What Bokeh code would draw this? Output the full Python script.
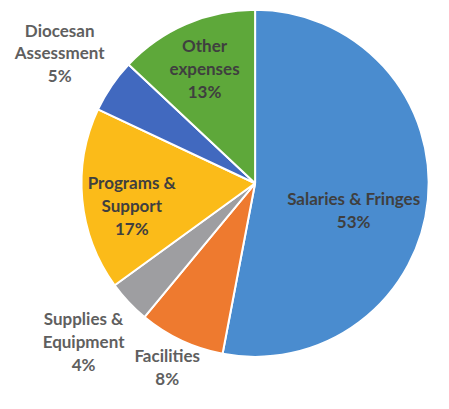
import math
from bokeh.plotting import figure
from bokeh.models import Range1d, ColumnDataSource
from bokeh.core.properties import value
from bokeh.embed import file_html
from bokeh.resources import INLINE

# ---- data ----
categories = ["Salaries & Fringes", "Facilities", "Supplies & Equipment",
              "Programs & Support", "Diocesan Assessment", "Other expenses"]
percents = [53, 8, 4, 17, 5, 13]
label_lines = [["Salaries & Fringes", "53%"],
               ["Facilities", "8%"],
               ["Supplies &", "Equipment", "4%"],
               ["Programs &", "Support", "17%"],
               ["Diocesan", "Assessment", "5%"],
               ["Other", "expenses", "13%"]]
colors = ["#4A8CCF", "#EE7A2F", "#9E9EA1", "#FBBB19", "#4169BF", "#5EA83A"]

# ---- layout ----
W, H = 433, 393
CX, CY = 264, 409 - 193
R = 180
label_r = [106, 214, 244, 130, 245, 132]
label_angle_nudge = [10, 0, 0, -5, 0, 0]
label_inside = [True, False, False, True, False, True]
LINE = 24

p = figure(width=W, height=H, output_backend="svg", toolbar_location=None,
           x_range=Range1d(0, 449), y_range=Range1d(-6, 409),
           min_border=0)
p.axis.visible = False
p.grid.visible = False
p.outline_line_color = None
p.background_fill_color = "white"

total = sum(percents)
starts, ends, mids = [], [], []
acc = 0.0
for v in percents:
    a0 = acc / total * 2 * math.pi
    acc += v
    a1 = acc / total * 2 * math.pi
    starts.append(math.pi / 2 - a0)
    ends.append(math.pi / 2 - a1)
    mids.append((a0 + a1) / 2)

src = ColumnDataSource(dict(x=[CX] * len(percents), y=[CY] * len(percents),
                            start=starts, end=ends, color=colors, cat=categories))
p.wedge(x="x", y="y", radius=R, start_angle="start", end_angle="end",
        direction="clock", fill_color="color", line_color="white",
        line_width=2, source=src)

tx, ty, tt, tc = [], [], [], []
for i, lines in enumerate(label_lines):
    th = mids[i] + math.radians(label_angle_nudge[i])
    lx = CX + label_r[i] * math.sin(th)
    ly = CY + label_r[i] * math.cos(th)
    n = len(lines)
    for j, s in enumerate(lines):
        tx.append(lx)
        ty.append(ly + (n - 1) / 2 * LINE - j * LINE)
        tt.append(s)
        tc.append("#3F3F3F" if label_inside[i] else "#5F5F5F")

p.text(x=tx, y=ty, text=tt, text_color=tc, text_align="center",
       text_baseline="middle", text_font=value("Lato"), text_font_size="17px",
       text_font_style="bold")

open("out.html", "w").write(file_html(p, INLINE))
